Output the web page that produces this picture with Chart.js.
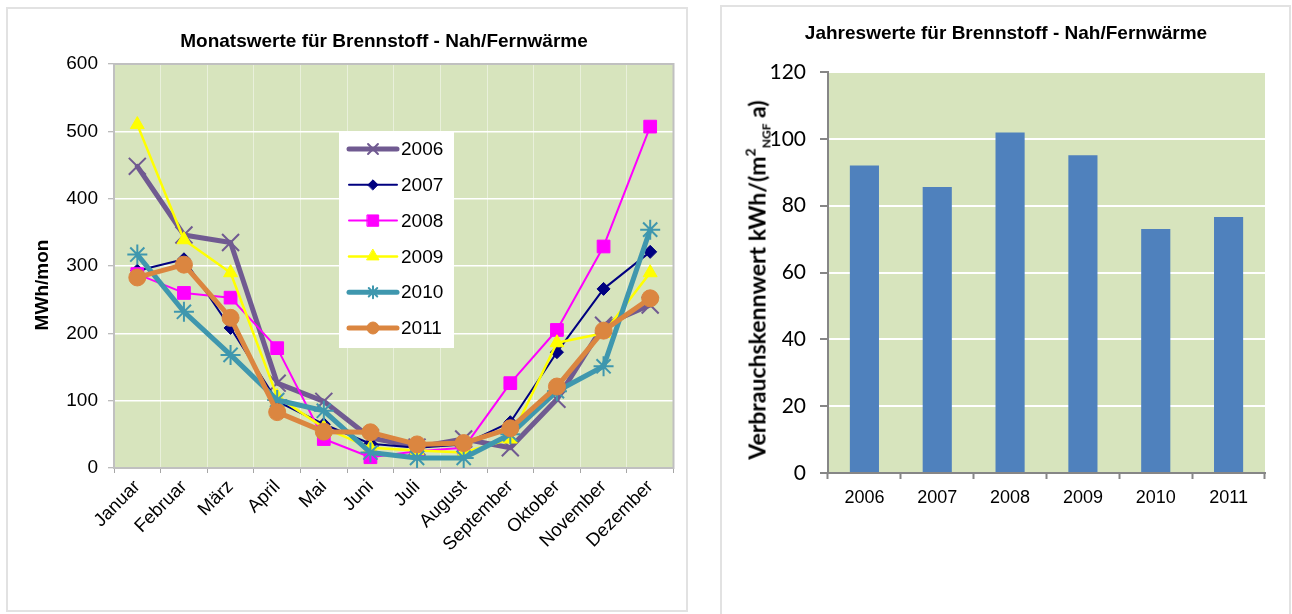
<!DOCTYPE html>
<html>
<head>
<meta charset="utf-8">
<title>Brennstoff - Nah/Fernwärme</title>
<script src="https://cdn.jsdelivr.net/npm/chart.js@4.4.1/dist/chart.umd.min.js"></script>
<style>
  html, body { margin: 0; padding: 0; background: #ffffff; }
  body { width: 1292px; height: 614px; position: relative; overflow: hidden; }
  .frame { position: absolute; box-sizing: border-box; border: 2px solid #e2e2e2; }
  canvas { position: absolute; top: 0; }
  #annualCaption {
    position: absolute; left: 757px; top: 280px;
    transform: translate(-50%, -50%) rotate(-90deg);
    white-space: nowrap; color: #000;
    font: bold 23px Lato, 'Liberation Sans', sans-serif; line-height: 1;
  }
  #annualCaption .sup { font-size: 14px; position: relative; top: -10px; }
  #annualCaption .sub { font-size: 12px; position: relative; top: 5px; }
</style>
</head>
<body>
<div class="frame" style="left:6px; top:7px; width:682px; height:605px;"></div>
<div class="frame" style="left:720px; top:5px; width:571px; height:640px;"></div>
<canvas id="monthly" width="692" height="614" style="left:0;"></canvas>
<canvas id="annual" width="592" height="614" style="left:700px;"></canvas>
<div id="annualCaption">Verbrauchskennwert kWh/(m<span class="sup">2</span><span class="sub">NGF</span> a)</div>
<script>
// ---- Monthly values (MWh/mon) ----
const months = ['Januar', 'Februar', 'März', 'April', 'Mai', 'Juni', 'Juli', 'August', 'September', 'Oktober', 'November', 'Dezember'];
const seriesYears = ['2006', '2007', '2008', '2009', '2010', '2011'];
const values2006 = [448, 346, 335, 126, 99, 45, 31, 43, 30, 102, 212, 242];
const values2007 = [293, 310, 208, 99, 65, 36, 30, 35, 68, 172, 266, 321];
const values2008 = [288, 260, 253, 178, 43, 16, 25, 30, 126, 205, 329, 507];
const values2009 = [510, 339, 290, 106, 60, 30, 26, 23, 43, 186, 200, 290];
const values2010 = [317, 232, 168, 101, 85, 23, 15, 15, 50, 114, 151, 354];
const values2011 = [283, 302, 223, 83, 54, 53, 35, 37, 59, 121, 204, 252];
const monthlyTicks = [0, 100, 200, 300, 400, 500, 600];

// ---- Annual values (kWh/(m² NGF a)) ----
const annualYears = ['2006', '2007', '2008', '2009', '2010', '2011'];
const annualValues = [92, 85.6, 101.9, 95.1, 73, 76.6];
const annualTicks = [0, 20, 40, 60, 80, 100, 120];

const ARIAL = "'Liberation Sans', Arial, sans-serif";
const CALIBRI = "Lato, 'Liberation Sans', sans-serif";
const PLOT_GREEN = '#d7e4bd';

// line look per year
const seriesLook = [
  { color: '#705a91', width: 5,   point: 'crossRot', radius: 12,  pointBorder: 2, legendRadius: 7,  order: 5 },
  { color: '#000080', width: 2,   point: 'rectRot',  radius: 6.5, pointBorder: 1, legendRadius: 5,  order: 4 },
  { color: '#ff00ff', width: 2,   point: 'rect',     radius: 9,   pointBorder: 1, legendRadius: 8,  order: 3 },
  { color: '#ffff00', width: 2.5, point: 'triangle', radius: 8,   pointBorder: 1, legendRadius: 7,  order: 2 },
  { color: '#3f97ae', width: 5,   point: 'star',     radius: 10,  pointBorder: 2, legendRadius: 6,  order: 1 },
  { color: '#db8640', width: 5,   point: 'circle',   radius: 8.5, pointBorder: 1, legendRadius: 6,  order: 0 }
];
const seriesValues = [values2006, values2007, values2008, values2009, values2010, values2011];

function fixedTicks(list) {
  return function (scale) {
    scale.ticks = list.map(v => ({ value: v }));
  };
}

// ---- plugin: green plot area, optional frame, texts and legend ----
const plotDecor = {
  id: 'plotDecor',
  beforeDraw(chart, args, opts) {
    const { ctx, chartArea: a } = chart;
    ctx.save();
    ctx.fillStyle = opts.fill;
    ctx.fillRect(a.left, a.top, a.right - a.left, a.bottom - a.top);
    ctx.restore();
  },
  beforeDatasetsDraw(chart, args, opts) {
    if (!opts.frame) return;
    const { ctx, chartArea: a } = chart;
    ctx.save();
    ctx.strokeStyle = opts.frame;
    ctx.lineWidth = 2;
    ctx.strokeRect(a.left, a.top, a.right - a.left, a.bottom - a.top);
    ctx.restore();
  },
  afterDraw(chart, args, opts) {
    const { ctx } = chart;
    ctx.save();
    ctx.fillStyle = '#000';
    ctx.font = opts.heading.font;
    ctx.textAlign = 'center';
    ctx.textBaseline = 'middle';
    ctx.fillText(opts.heading.text, opts.heading.x, opts.heading.y);
    ctx.restore();

    const cap = opts.caption;
    if (cap) {
      ctx.save();
      ctx.fillStyle = '#000';
      ctx.font = cap.font;
      ctx.textAlign = 'center';
      ctx.textBaseline = 'middle';
      ctx.translate(cap.x, cap.y);
      ctx.rotate(-Math.PI / 2);
      ctx.fillText(cap.text, 0, 0);
      ctx.restore();
    }

    if (opts.legend) drawLegend(chart, opts.legend);
  }
};

function drawLegend(chart, lg) {
  const { ctx } = chart;
  ctx.save();
  ctx.fillStyle = '#ffffff';
  ctx.fillRect(lg.x, lg.y, lg.w, lg.h);
  chart.data.datasets.forEach((ds, i) => {
    const y = lg.firstRow + i * lg.step;
    ctx.strokeStyle = ds.borderColor;
    ctx.lineWidth = ds.borderWidth;
    ctx.lineCap = 'round';
    ctx.beginPath();
    ctx.moveTo(lg.lineFrom, y);
    ctx.lineTo(lg.lineTo, y);
    ctx.stroke();
    ctx.fillStyle = ds.pointBackgroundColor;
    ctx.strokeStyle = ds.pointBorderColor;
    ctx.lineWidth = ds.pointBorderWidth;
    Chart.helpers.drawPoint(ctx, {
      pointStyle: ds.pointStyle, rotation: 0, radius: ds.legendRadius, borderWidth: ds.pointBorderWidth
    }, (lg.lineFrom + lg.lineTo) / 2, y);
    ctx.fillStyle = '#000';
    ctx.font = lg.font;
    ctx.textAlign = 'left';
    ctx.textBaseline = 'middle';
    ctx.fillText(ds.label, lg.textX, y + 1);
  });
  ctx.restore();
}

// ---------------- monthly line chart ----------------
new Chart(document.getElementById('monthly'), {
  type: 'line',
  data: {
    labels: months,
    datasets: seriesYears.map((year, i) => {
      const s = seriesLook[i];
      return {
        label: year,
        data: seriesValues[i],
        borderColor: s.color,
        backgroundColor: s.color,
        pointBackgroundColor: s.color,
        pointBorderColor: s.color,
        borderWidth: s.width,
        borderJoinStyle: 'round',
        borderCapStyle: 'round',
        pointStyle: s.point,
        pointRadius: s.radius,
        pointHoverRadius: s.radius,
        pointBorderWidth: s.pointBorder,
        legendRadius: s.legendRadius,
        tension: 0,
        fill: false,
        clip: false,
        order: s.order
      };
    })
  },
  options: {
    responsive: false,
    animation: false,
    devicePixelRatio: 1,
    events: [],
    layout: { padding: { top: 64, right: 18.5, bottom: 46, left: 0 } },
    plugins: {
      legend: { display: false },
      tooltip: { enabled: false },
      title: { display: false },
      plotDecor: {
        fill: PLOT_GREEN,
        frame: '#c0c0c0',
        heading: { text: 'Monatswerte für Brennstoff - Nah/Fernwärme', font: "bold 19px " + ARIAL, x: 384, y: 42 },
        caption: { x: 43, y: 285, text: 'MWh/mon', font: "bold 19px " + ARIAL },
        legend: {
          x: 339, y: 132, w: 115, h: 216, firstRow: 149, step: 35.8,
          lineFrom: 349, lineTo: 397, textX: 401, font: "19px " + ARIAL
        }
      }
    },
    scales: {
      x: {
        offset: true,
        grid: { offset: true, color: 'rgba(255,255,255,0.45)', lineWidth: 1, tickLength: 5, tickColor: '#a6a6a6', tickWidth: 1 },
        border: { display: false },
        ticks: { autoSkip: false, maxRotation: 45, minRotation: 45, color: '#000', padding: 3, font: { family: ARIAL, size: 18.5 } },
        afterFit(scale) { scale.height = 100; }
      },
      y: {
        min: 0,
        max: 600,
        afterBuildTicks: fixedTicks(monthlyTicks),
        grid: { color: '#ffffff', lineWidth: 1.5, tickLength: 6, tickColor: '#a6a6a6', tickWidth: 1 },
        border: { display: false },
        ticks: { color: '#000', padding: 10, font: { family: ARIAL, size: 19 } },
        afterFit(scale) { scale.width = 114; }
      }
    }
  },
  plugins: [plotDecor]
});

// ---------------- annual bar chart ----------------
new Chart(document.getElementById('annual'), {
  type: 'bar',
  data: {
    labels: annualYears,
    datasets: [{
      label: 'Verbrauchskennwert',
      data: annualValues,
      backgroundColor: '#4f81bd',
      borderWidth: 0,
      barPercentage: 0.4,
      categoryPercentage: 1
    }]
  },
  options: {
    responsive: false,
    animation: false,
    devicePixelRatio: 1,
    events: [],
    layout: { padding: { top: 72, right: 27, bottom: 101, left: 0 } },
    plugins: {
      legend: { display: false },
      tooltip: { enabled: false },
      title: { display: false },
      plotDecor: {
        fill: PLOT_GREEN,
        frame: null,
        heading: { text: 'Jahreswerte für Brennstoff - Nah/Fernwärme', font: "bold 19px " + ARIAL, x: 306, y: 34 },
        caption: null,
        legend: null
      }
    },
    scales: {
      x: {
        offset: true,
        grid: { display: true, offset: true, drawOnChartArea: false, tickLength: 6, tickColor: '#868686', tickWidth: 2 },
        border: { display: true, color: '#868686', width: 2 },
        ticks: { color: '#000', padding: 8, font: { family: ARIAL, size: 18 } },
        afterFit(scale) { scale.height = 40; }
      },
      y: {
        min: 0,
        max: 120,
        afterBuildTicks: fixedTicks(annualTicks),
        grid: {
          color: c => (c.tick && c.tick.value === 0) ? 'rgba(0,0,0,0)' : '#ffffff',
          lineWidth: 2, tickLength: 8, tickColor: '#868686', tickWidth: 2
        },
        border: { display: true, color: '#868686', width: 2 },
        ticks: { color: '#000', padding: 14, font: { family: CALIBRI, size: 21 } },
        afterFit(scale) { scale.width = 128; }
      }
    }
  },
  plugins: [plotDecor]
});
</script>
</body>
</html>
